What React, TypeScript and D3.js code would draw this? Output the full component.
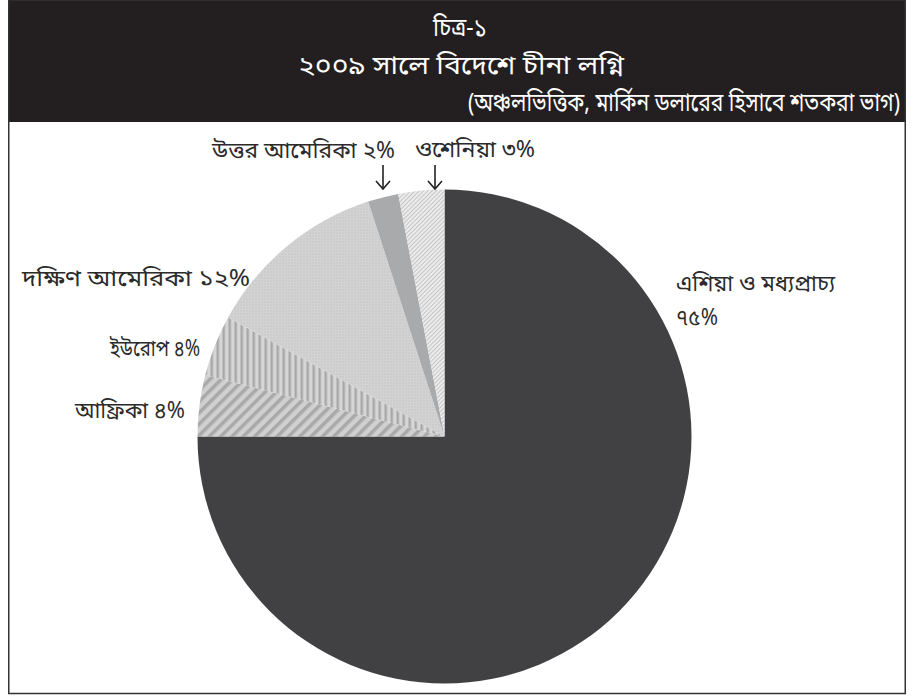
import React from "react";
import * as d3 from "d3";

const categories = ["এশিয়া ও মধ্যপ্রাচ্য", "আফ্রিকা", "ইউরোপ", "দক্ষিণ আমেরিকা", "উত্তর আমেরিকা", "ওশেনিয়া"];
const values = [75, 4, 4, 12, 2, 3];
const pctLabels = ["৭৫%", "৪%", "৪%", "১২%", "২%", "৩%"];
const titleLines = ["চিত্র-১", "২০০৯ সালে বিদেশে চীনা লগ্নি", "(অঞ্চলভিত্তিক, মার্কিন ডলারের হিসাবে শতকরা ভাগ)"];

const fills = ["#414143", "url(#pAfrica)", "url(#pEurope)", "url(#pSA)", "#a9aaac", "url(#pOce)"];

const FONT = "'Noto Sans Bengali', 'Noto Sans', 'Lohit Bengali', sans-serif";

export default function App() {
  const cx = 444.5, cy = 436.5, r = 247;
  const pie = d3.pie<number>().sort(null).value((d) => d);
  const arcs = pie(values);
  const arc = d3.arc<d3.PieArcDatum<number>>().innerRadius(0).outerRadius(r);
  const txt = "#2b2b2b";
  const arrow = (x: number) => (
    <g stroke="#222" strokeWidth={1.6} fill="none">
      <line x1={x} y1={165} x2={x} y2={189} />
      <polyline points={`${x - 7},${181} ${x},${189} ${x + 7},${181}`} />
    </g>
  );
  const T = (x: number, y: number, s: string, len: number) => (
    <text x={x} y={y} textLength={len} lengthAdjust="spacingAndGlyphs">{s}</text>
  );
  return (
    <svg width={920} height={698} style={{ position: "absolute", left: 0, top: 0 }} fontFamily={FONT}>
      <defs>
        <pattern id="pAfrica" patternUnits="userSpaceOnUse" width={8} height={8} patternTransform="rotate(45)">
          <rect width={8} height={8} fill="#d0d0d0" />
          <rect width={3.5} height={8} fill="#a9a9a9" />
        </pattern>
        <pattern id="pEurope" patternUnits="userSpaceOnUse" width={6} height={6}>
          <rect width={6} height={6} fill="#d6d6d6" />
          <rect width={2.5} height={6} fill="#a8a8a8" />
        </pattern>
        <pattern id="pSA" patternUnits="userSpaceOnUse" width={3} height={3}>
          <rect width={3} height={3} fill="#d8d8d8" />
          <rect width={1} height={1} fill="#b0b0b0" />
          <rect x={1.5} y={1.5} width={1} height={1} fill="#b8b8b8" />
        </pattern>
        <pattern id="pOce" patternUnits="userSpaceOnUse" width={3} height={3} patternTransform="rotate(45)">
          <rect width={3} height={3} fill="#ececec" />
          <rect width={1} height={3} fill="#c4c4c4" />
        </pattern>
      </defs>
      <rect x={0} y={0} width={920} height={698} fill="#fff" />
      <rect x={8} y={0} width={898} height={122} fill="#231f20" />
      <rect x={8.75} y={0} width={896.5} height={693.5} fill="none" stroke="#333" strokeWidth={1.5} />
      <g fill="#fff" fontSize={26}>
        {T(433, 36, titleLines[0], 54)}
        {T(298, 74, titleLines[1], 326)}
        <g transform="translate(468,111) scale(1,1.2)">
          <text x={0} y={0} fontSize={21} textLength={432} lengthAdjust="spacingAndGlyphs">{titleLines[2]}</text>
        </g>
      </g>
      <g transform={`translate(${cx},${cy})`}>
        {arcs.map((a, i) => (
          <path key={i} d={arc(a) || ""} fill={fills[i]} />
        ))}
      </g>
      <g fill={txt} fontSize={23}>
        {T(676, 291, categories[0], 159)}
        {T(676, 325, pctLabels[0], 42)}
        {T(75, 418, `${categories[1]} ${pctLabels[1]}`, 110)}
        {T(110, 356, `${categories[2]} ${pctLabels[2]}`, 90)}
        {T(22, 286, `${categories[3]} ${pctLabels[3]}`, 228)}
        {T(212, 158, `${categories[4]} ${pctLabels[4]}`, 183)}
        {T(415, 157, `${categories[5]} ${pctLabels[5]}`, 120)}
      </g>
      {arrow(383)}
      {arrow(435)}
    </svg>
  );
}
